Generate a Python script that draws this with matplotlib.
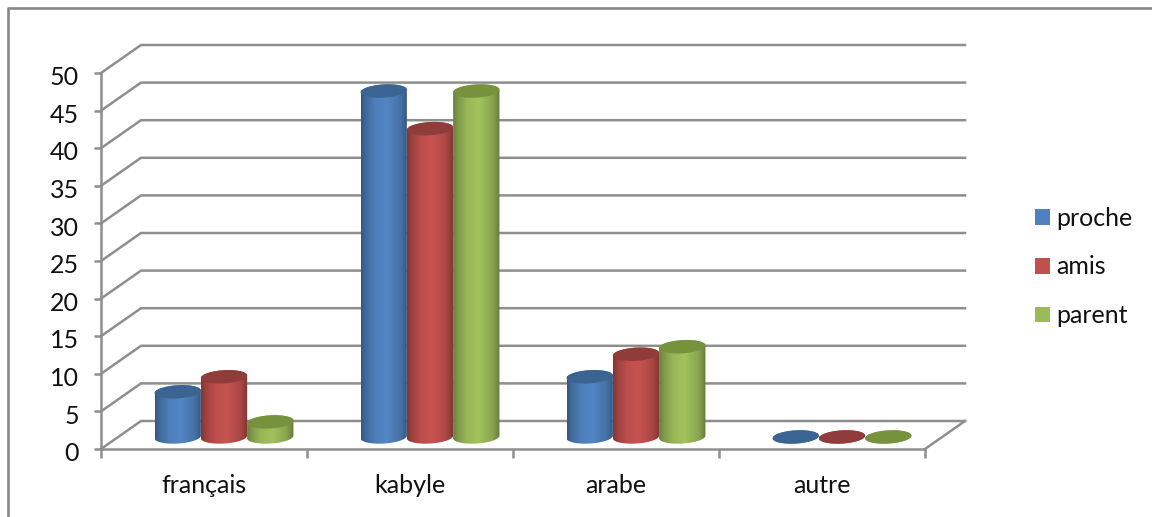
import numpy as np
import matplotlib as mpl
mpl.use('Agg')
from matplotlib import pyplot as plt
from matplotlib.lines import Line2D
from matplotlib.patches import Patch, Polygon
from matplotlib.transforms import ScaledTranslation

plt.rcParams['font.family'] = ['Lato', 'DejaVu Sans']

W, H = 1152, 517
GRID = '#8e8e8e'
TEXT = '#111111'
LINE_W = 1.8

categories = ['français', 'kabyle', 'arabe', 'autre']
proche = [6, 46, 8, 0]
amis = [8, 41, 11, 0]
parent = [2, 46, 12, 0]
series_names = ['proche', 'amis', 'parent']
y_ticks = list(range(0, 55, 5))

series = [proche, amis, parent]
body_colors = ['#4f81bd', '#c0504d', '#9bbb59']
top_colors = ['#3b6493', '#8f3c3a', '#76923c']

fig = plt.figure(figsize=(W / 100, H / 100), dpi=100)
ax = fig.add_axes([101 / W, 1 - 449 / H, 824 / W, 376 / H])
ax.patch.set_alpha(0)
ax.set_xlim(0, 4)
ax.set_ylim(0, 50)

# pixel sizes expressed in data units
px_x = 4 / 824
px_y = 50 / 376
depth_x = 40 * px_x
depth_y = 28 * px_y
bar_w = 1 / 4.45
gap = (1 - 3 * bar_w) / 2
ry = 6.6 * px_y
tilt = 0.2

# outer chart frame
fig.add_artist(Line2D([8 / W, 8 / W, 1], [0, 1 - 8 / H, 1 - 8 / H], color='#868686', lw=1.9))

# back wall and left wall gridlines
for v in y_ticks:
    ax.plot([0, depth_x, 4 + depth_x], [v, v + depth_y, v + depth_y],
            color=GRID, lw=LINE_W, clip_on=False, zorder=1, solid_joinstyle='miter')
ax.plot([4, 4 + depth_x], [0, depth_y], color=GRID, lw=LINE_W, clip_on=False, zorder=1)


def ellipse(cx, cy, t):
    rx = bar_w / 2
    return cx + rx * np.cos(t), cy + ry * np.sin(t) + tilt * ry * np.cos(t)


def cylinder(cx, value, body, top, z):
    # cylinders stand part way into the floor depth
    base_y = 0.43 * depth_y
    top_y = base_y + value
    xb, yb = ellipse(cx, base_y, np.linspace(np.pi, 2 * np.pi, 40))
    xt, yt = ellipse(cx, top_y, np.linspace(0, np.pi, 40))
    verts = np.column_stack([np.r_[xb, xt], np.r_[yb, yt]])
    shape = Polygon(verts, closed=True, facecolor='none', edgecolor='none', zorder=z)
    ax.add_patch(shape)

    # horizontal shading across the round side
    stops = np.array([0, 0.1, 0.3, 0.55, 0.85, 1])
    gains = np.array([0.68, 0.82, 0.98, 1.04, 0.88, 0.66])
    ramp = np.interp(np.linspace(0, 1, 64), stops, gains)
    rgb = np.array(mpl.colors.to_rgb(body))
    img = np.clip(ramp[None, :, None] * rgb, 0, 1)
    im = ax.imshow(img, extent=[cx - bar_w / 2, cx + bar_w / 2, base_y - ry * 1.5, top_y + ry * 1.5],
                   aspect='auto', interpolation='bilinear', zorder=z)
    im.set_clip_path(shape)

    xe, ye = ellipse(cx, top_y, np.linspace(0, 2 * np.pi, 80))
    ax.add_patch(Polygon(np.column_stack([xe, ye]), closed=True, facecolor=top,
                         edgecolor='none', zorder=z + 0.5, clip_on=False))


z = 3
for i, name in enumerate(categories):
    for s, values in enumerate(series):
        cx = i + gap + bar_w * (s + 0.5) + 0.5 * depth_x
        cylinder(cx, values[i], body_colors[s], top_colors[s], z)
        z += 1

ax.set_xlim(0, 4)
ax.set_ylim(0, 50)

for side in ['top', 'right']:
    ax.spines[side].set_visible(False)
for side in ['left', 'bottom']:
    ax.spines[side].set_color(GRID)
    ax.spines[side].set_linewidth(LINE_W)

ax.set_yticks(y_ticks)
ax.tick_params(axis='y', length=5, width=LINE_W, color=GRID, pad=11, labelsize=18, labelcolor=TEXT)
ax.set_xticks(range(5))
ax.set_xticklabels([])
ax.set_xticks(np.arange(4) + 0.5, categories, minor=True)
ax.tick_params(axis='x', which='major', length=6.5, width=LINE_W, color=GRID)
ax.tick_params(axis='x', which='minor', length=0, pad=17.7, labelsize=18, labelcolor=TEXT)

# the tick numbers sit a little below their ticks
nudge = ScaledTranslation(0, -2 / 72, fig.dpi_scale_trans)
for label in ax.get_yticklabels():
    label.set_transform(label.get_transform() + nudge)

handles = [Patch(facecolor=c, edgecolor='none', label=n) for c, n in zip(body_colors, series_names)]
fig.legend(handles=handles, loc='center left', bbox_to_anchor=(1035 / W, 1 - 267 / H),
           frameon=False, fontsize=18, labelcolor=TEXT, borderpad=0, borderaxespad=0,
           handlelength=0.6, handleheight=0.6, handletextpad=0.26, labelspacing=1.03)

fig.savefig('out.png', dpi=100)
